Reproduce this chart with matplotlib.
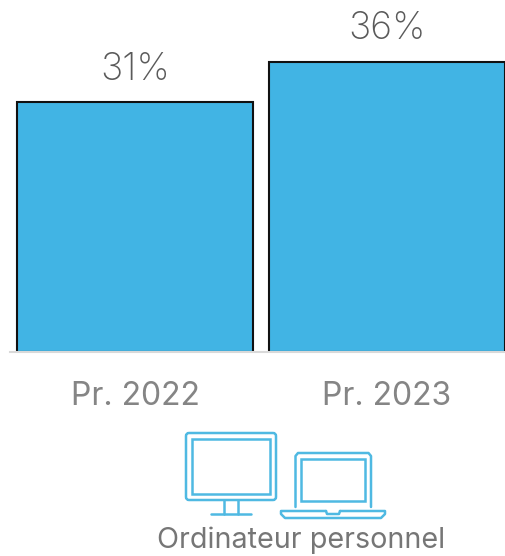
import matplotlib
matplotlib.use("Agg")
import matplotlib.pyplot as plt
from matplotlib.patches import FancyBboxPatch, Rectangle

W, H = 506, 556

periods = ["Pr. 2022", "Pr. 2023"]
shares = [31, 36]
device_label = "Ordinateur personnel"

BLUE = "#41B4E4"
ICON = "#4FB9E2"
FONT = ["Inter", "DejaVu Sans"]

plt.rcParams["font.family"] = FONT

fig = plt.figure(figsize=(W / 100, H / 100), dpi=100)
fig.patch.set_facecolor("white")


def px_axes(left, top, right, bottom):
    return fig.add_axes([left / W, 1 - bottom / H, (right - left) / W, (bottom - top) / H])


# bars sit on a light baseline, 8.06 px per percentage point
ax = px_axes(10, 0, 506, 352)
x = list(range(len(shares)))
ax.bar(x, shares, width=0.9365, color=BLUE, edgecolor="#111111", linewidth=1.5)
ax.set_xlim(-0.496, 1.472)
ax.set_ylim(0, 352 / 8.06)
for s in ["top", "left", "right"]:
    ax.spines[s].set_visible(False)
ax.spines["bottom"].set_color("#D9D9D9")
ax.spines["bottom"].set_linewidth(1.5)
ax.set_yticks([])
ax.set_xticks(x, periods)
ax.tick_params(axis="x", length=0, pad=21, labelsize=23, labelcolor="#858585")
for i, v in zip(x, shares):
    ax.annotate(f"{v}%", (i, v), xytext=(0, 10.5), textcoords="offset points",
                ha="center", va="bottom", fontsize=27, color="#5A5A5A", fontweight="light")

# device icons, drawn in pixel coordinates
ic = fig.add_axes([0, 0, 1, 1], zorder=3)
ic.set_xlim(0, W)
ic.set_ylim(H, 0)
ic.axis("off")
lw = 1.8


def rounded(x0, y0, x1, y1, r=3):
    ic.add_patch(FancyBboxPatch((x0, y0), x1 - x0, y1 - y0,
                                boxstyle=f"round,pad=0,rounding_size={r}",
                                fill=False, edgecolor=ICON, linewidth=lw))


def line(xs, ys):
    ic.plot(xs, ys, color=ICON, linewidth=lw, solid_capstyle="round", solid_joinstyle="round")


# desktop monitor
rounded(186, 433, 276, 500)
ic.add_patch(Rectangle((192, 439), 78, 55, fill=False, edgecolor=ICON, linewidth=lw))
line([224, 224], [500, 514])
line([238, 238], [500, 514])
line([211, 251], [514, 514])

# laptop
line([295.5, 295.5, 298, 368.5, 371, 371], [507, 456, 453, 453, 456, 507])
ic.add_patch(Rectangle((301, 459), 64, 42, fill=False, edgecolor=ICON, linewidth=lw))
line([326, 281, 281, 285, 381, 385, 385, 340], [511, 511, 514, 518, 518, 514, 511, 511])
line([326, 327, 339, 340], [511, 514, 514, 511])

ic.text(301, 540, device_label, ha="center", va="center", fontsize=20.7, color="#767676")

fig.savefig("out.png", dpi=100)
